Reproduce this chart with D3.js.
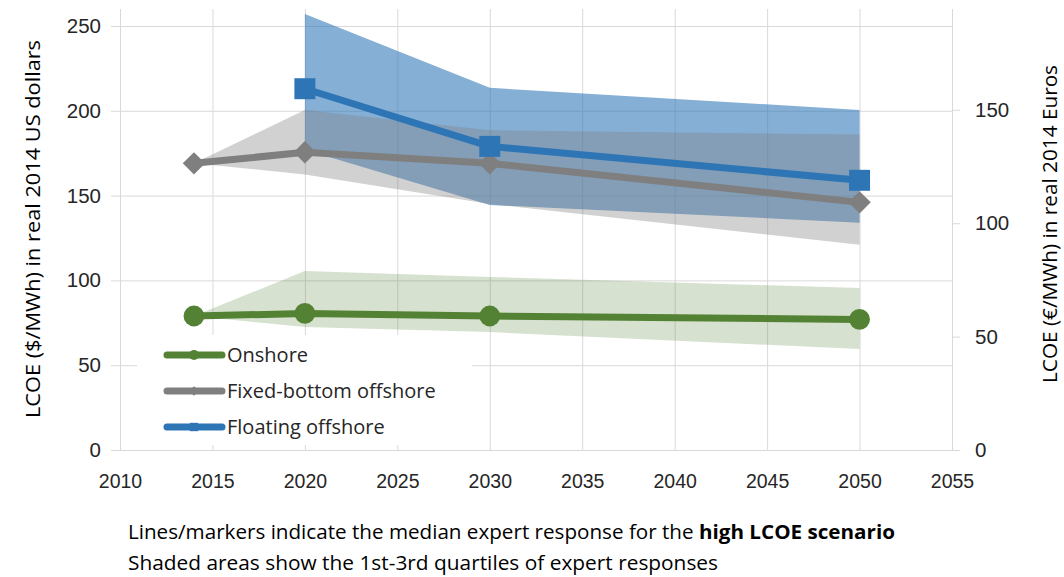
<!DOCTYPE html>
<html>
<head>
<meta charset="utf-8">
<script src="https://cdn.jsdelivr.net/npm/d3@7"></script>
<style>
  body { margin: 0; background: #fff; }
  svg { display: block; font-family: 'Open Sans', sans-serif; }
</style>
</head>
<body>
<div id="chart"></div>
<script>
// Data (US $/MWh).
const years = [2014, 2020, 2030, 2050];
const onshoreMedian = [79, 80.5, 79, 77];
const onshoreQ1 = [79, 72.5, 69.5, 59.5];
const onshoreQ3 = [79, 105.5, 102, 95.5];
const fixedMedian = [169, 175.5, 169, 146];
const fixedQ1 = [169, 162.5, 145, 121];
const fixedQ3 = [169, 200.5, 188.5, 186];
const floatingYears = [2020, 2030, 2050];
const floatingMedian = [213, 179, 159];
const floatingQ1 = [177, 144.5, 134];
const floatingQ3 = [257, 213.5, 200.5];

const xTicks = [2010, 2015, 2020, 2025, 2030, 2035, 2040, 2045, 2050, 2055];
const yTicks = [0, 50, 100, 150, 200, 250];
const euroTicks = [0, 50, 100, 150];
const usdPerEuro = 1.337;

const seriesNames = ['Onshore', 'Fixed-bottom offshore', 'Floating offshore'];
const leftTitle = 'LCOE ($/MWh) in real 2014 US dollars';
const rightTitle = 'LCOE (€/MWh) in real 2014 Euros';
const noteLine1 = 'Lines/markers indicate the median expert response for the ';
const noteBold = 'high LCOE scenario';
const noteLine2 = 'Shaded areas show the 1st-3rd quartiles of expert responses';

const attrs = {
  width: 1064,
  height: 577,
  left: 120,
  right: 952,
  top: 9,
  bottom: 450,
  green: '#548235',
  gray: '#7f7f7f',
  blue: '#2e75b6',
  grid: '#d9d9d9',
  text: '#262626',
};

const svg = d3.select('#chart').append('svg')
  .attr('width', attrs.width)
  .attr('height', attrs.height);

// Scales.
const x = d3.scaleLinear().domain([2010, 2055]).range([attrs.left, attrs.right]);
const y = d3.scaleLinear().domain([0, 260]).range([attrs.bottom, attrs.top]);
const yEuro = d3.scaleLinear().domain([0, 260 / usdPerEuro]).range([attrs.bottom, attrs.top]);

// Gridlines + left ticks.
svg.append('g')
  .attr('transform', 'translate(' + attrs.left + ',0)')
  .call(d3.axisLeft(y).tickValues(yTicks).tickSize(-(attrs.right - attrs.left)).tickSizeOuter(0))
  .call(g => g.select('.domain').remove())
  .call(g => g.selectAll('.tick line').attr('stroke', attrs.grid).attr('x1', -9))
  .call(g => g.selectAll('.tick text').attr('fill', attrs.text).style('font-size', '20.5px').attr('x', -19));

svg.append('g')
  .attr('transform', 'translate(0,' + attrs.bottom + ')')
  .call(d3.axisBottom(x).tickValues(xTicks).tickFormat(d3.format('d')).tickSize(-(attrs.bottom - attrs.top)).tickPadding(24))
  .call(g => g.select('.domain').attr('stroke', attrs.grid))
  .call(g => g.selectAll('.tick line').attr('stroke', attrs.grid))
  .call(g => g.selectAll('.tick text').attr('fill', attrs.text).style('font-size', '19.5px'));

// Right axis (Euros).
svg.append('g')
  .attr('transform', 'translate(' + attrs.right + ',0)')
  .call(d3.axisRight(yEuro).tickValues(euroTicks).tickSize(8).tickSizeOuter(0).tickPadding(15))
  .call(g => g.select('.domain').remove())
  .call(g => g.selectAll('.tick line').attr('stroke', attrs.grid))
  .call(g => g.selectAll('.tick text').attr('fill', attrs.text).style('font-size', '20.5px'));

// Quartile bands.
const band = d3.area()
  .x(d => x(d.x))
  .y0(d => y(d.lo))
  .y1(d => y(d.hi));

const zipBand = (xs, lo, hi) => xs.map((v, i) => ({ x: v, lo: lo[i], hi: hi[i] }));

svg.append('path')
  .datum(zipBand(years, onshoreQ1, onshoreQ3))
  .attr('d', band)
  .attr('fill', attrs.green)
  .attr('fill-opacity', 0.24);

svg.append('path')
  .datum(zipBand(floatingYears, floatingQ1, floatingQ3))
  .attr('d', band)
  .attr('fill', attrs.blue)
  .attr('fill-opacity', 0.58);

svg.append('path')
  .datum(zipBand(years, fixedQ1, fixedQ3))
  .attr('d', band)
  .attr('fill', attrs.gray)
  .attr('fill-opacity', 0.36);

// Median lines.
const line = d3.line()
  .x(d => x(d.x))
  .y(d => y(d.y));

const zipLine = (xs, ys) => xs.map((v, i) => ({ x: v, y: ys[i] }));

const series = [
  { name: seriesNames[0], color: attrs.green, marker: d3.symbolCircle, size: 340, legendSize: 80, data: zipLine(years, onshoreMedian) },
  { name: seriesNames[1], color: attrs.gray, marker: d3.symbolDiamond2, size: 320, legendSize: 60, data: zipLine(years, fixedMedian) },
  { name: seriesNames[2], color: attrs.blue, marker: d3.symbolSquare, size: 440, legendSize: 70, data: zipLine(floatingYears, floatingMedian) },
];

series.forEach(s => {
  svg.append('path')
    .datum(s.data)
    .attr('d', line)
    .attr('fill', 'none')
    .attr('stroke', s.color)
    .attr('stroke-width', 7)
    .attr('stroke-linejoin', 'round');

  svg.selectAll(null)
    .data(s.data)
    .enter()
    .append('path')
    .attr('transform', d => 'translate(' + x(d.x) + ',' + y(d.y) + ')')
    .attr('d', d3.symbol().type(s.marker).size(s.size))
    .attr('fill', s.color);
});

// Legend.
const legend = svg.append('g').attr('transform', 'translate(137,335)');
legend.append('rect')
  .attr('width', 335)
  .attr('height', 110)
  .attr('fill', '#fff');

const item = legend.selectAll('.item')
  .data(series)
  .enter()
  .append('g')
  .attr('class', 'item')
  .attr('transform', (d, i) => 'translate(0,' + (20 + i * 36) + ')');

item.append('line')
  .attr('x1', 30)
  .attr('x2', 85)
  .attr('stroke', d => d.color)
  .attr('stroke-width', 7)
  .attr('stroke-linecap', 'round');

item.append('path')
  .attr('transform', 'translate(57,0)')
  .attr('d', d => d3.symbol().type(d.marker).size(d.legendSize)())
  .attr('fill', d => d.color);

item.append('text')
  .attr('x', 90)
  .attr('dy', '0.35em')
  .attr('fill', attrs.text)
  .style('font-size', '20px')
  .text(d => d.name);

// Axis titles.
svg.append('text')
  .attr('transform', 'translate(40,229) rotate(-90)')
  .attr('text-anchor', 'middle')
  .attr('textLength', 378)
  .attr('lengthAdjust', 'spacingAndGlyphs')
  .style('font-size', '20px')
  .attr('fill', '#000')
  .text(leftTitle);

svg.append('text')
  .attr('transform', 'translate(1057,224) rotate(-90)')
  .attr('text-anchor', 'middle')
  .attr('textLength', 318)
  .attr('lengthAdjust', 'spacingAndGlyphs')
  .style('font-size', '20px')
  .attr('fill', '#000')
  .text(rightTitle);

// Footnote.
const note1 = svg.append('text')
  .attr('x', 128)
  .attr('y', 539)
  .attr('textLength', 767)
  .attr('lengthAdjust', 'spacingAndGlyphs')
  .style('font-size', '19.5px')
  .attr('fill', '#000');
note1.append('tspan').text(noteLine1);
note1.append('tspan').style('font-weight', 'bold').text(noteBold);

svg.append('text')
  .attr('x', 128)
  .attr('y', 570)
  .attr('textLength', 590)
  .attr('lengthAdjust', 'spacingAndGlyphs')
  .style('font-size', '19.5px')
  .attr('fill', '#000')
  .text(noteLine2);
</script>
</body>
</html>
